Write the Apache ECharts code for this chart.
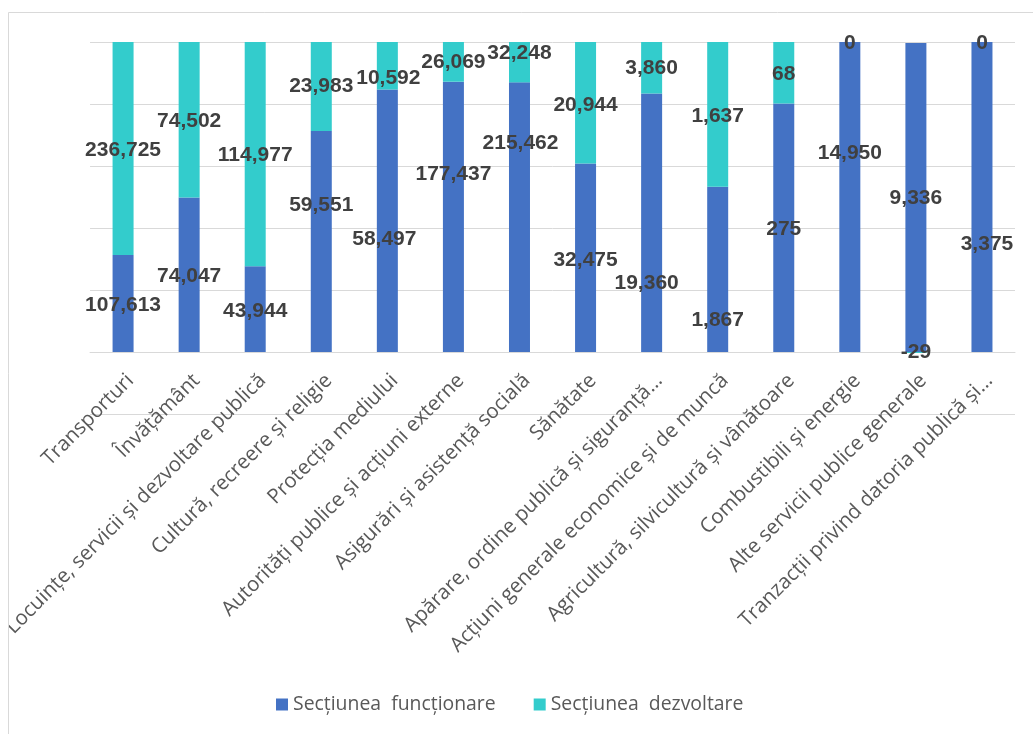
<!DOCTYPE html>
<html>
<head>
<meta charset="utf-8">
<script src="https://cdn.jsdelivr.net/npm/echarts@6/dist/echarts.min.js"></script>
<style>
html,body{margin:0;padding:0;background:#fff;}
#chart{width:1033px;height:734px;}
</style>
</head>
<body>
<div id="chart"></div>
<script>
const categories = [
  "Transporturi",
  "Învățământ",
  "Locuințe, servicii și dezvoltare publică",
  "Cultură, recreere și religie",
  "Protecția mediului",
  "Autorități publice și acțiuni externe",
  "Asigurări și asistență socială",
  "Sănătate",
  "Apărare, ordine publică și siguranță…",
  "Acțiuni generale economice și de muncă",
  "Agricultură, silvicultură și vânătoare",
  "Combustibili și energie",
  "Alte servicii publice generale",
  "Tranzacții privind datoria publică și…"
];
const functionare = [107613, 74047, 43944, 59551, 58497, 177437, 215462, 32475, 19360, 1867, 275, 14950, 9336, 3375];
const dezvoltare = [236725, 74502, 114977, 23983, 10592, 26069, 32248, 20944, 3860, 1637, 68, 0, -29, 0];
const seriesNames = ["Secțiunea  funcționare", "Secțiunea  dezvoltare"];

// Styling: manual label nudges (px) as placed in the original chart
const nudgeF = [[0,2],[0,1],[0,2],[0,-36],[-3,18],[0,-43],[1,-74],[0,2],[-5,60],[0,51],[0,1],[0,-44],[0,1],[5,47]];
const nudgeD = [[0,2],[0,1],[0,1],[0,0],[1,12],[0,0],[0,-9],[0,2],[0,0],[0,2],[0,1],[0,1],[0,0],[0,1]];

const totals = functionare.map((f, i) => Math.abs(f) + Math.abs(dezvoltare[i]));
const pctF = functionare.map((f, i) => f / totals[i]);
const pctD = dezvoltare.map((d, i) => (d / totals[i]) || 1e-9);

const fmt = v => v.toLocaleString('en-US');

const labelStyle = {
  show: true,
  position: 'inside',
  color: '#404040',
  fontSize: 21,
  fontWeight: 'bold',
  fontFamily: 'Liberation Sans'
};

const chart = echarts.init(document.getElementById('chart'), null, {renderer: 'canvas'});
chart.setOption({
  animation: false,
  backgroundColor: '#fff',
  textStyle: {fontFamily: 'Open Sans'},
  grid: {left: 88, right: 18, top: 42, bottom: 320, containLabel: false},
  legend: {
    top: 695,
    left: 276,
    padding: 0,
    icon: 'rect',
    itemWidth: 12,
    itemHeight: 12,
    itemGap: 38,
    textStyle: {color: '#595959', fontSize: 19.4, fontFamily: 'Open Sans'},
    data: seriesNames
  },
  xAxis: {
    type: 'category',
    data: categories,
    axisLine: {show: true, onZero: true, lineStyle: {color: '#D9D9D9', width: 1}},
    axisTick: {show: false},
    axisLabel: {
      interval: 0,
      rotate: 45,
      margin: -44,
      verticalAlign: 'top',
      align: 'right',
      color: '#595959',
      fontSize: 20.5,
      fontFamily: 'Open Sans'
    }
  },
  yAxis: {
    type: 'value',
    min: -0.2,
    max: 1,
    interval: 0.2,
    axisLine: {show: false},
    axisTick: {show: false},
    axisLabel: {show: false},
    splitLine: {lineStyle: {color: '#D9D9D9', width: 1}}
  },
  graphic: [
    {type: 'rect', shape: {x: 0, y: 0, width: 8, height: 734}, style: {fill: '#fff'}, z: 100},
    {type: 'rect', shape: {x: 8.5, y: 12.5, width: 1200, height: 1000}, style: {fill: 'none', stroke: '#D9D9D9', lineWidth: 1}, z: 100}
  ],
  series: [
    {
      name: seriesNames[0],
      type: 'bar',
      stack: 'total',
      barWidth: 21,
      clip: false,
      itemStyle: {color: '#4472C4'},
      label: Object.assign({}, labelStyle, {formatter: p => fmt(functionare[p.dataIndex])}),
      data: pctF.map((v, i) => ({value: v, label: {offset: nudgeF[i]}}))
    },
    {
      name: seriesNames[1],
      type: 'bar',
      stack: 'total',
      barWidth: 21,
      clip: false,
      itemStyle: {color: '#33CCCC'},
      label: Object.assign({}, labelStyle, {formatter: p => fmt(dezvoltare[p.dataIndex])}),
      data: pctD.map((v, i) => ({value: v, label: {offset: nudgeD[i]}}))
    }
  ]
});
</script>
</body>
</html>
